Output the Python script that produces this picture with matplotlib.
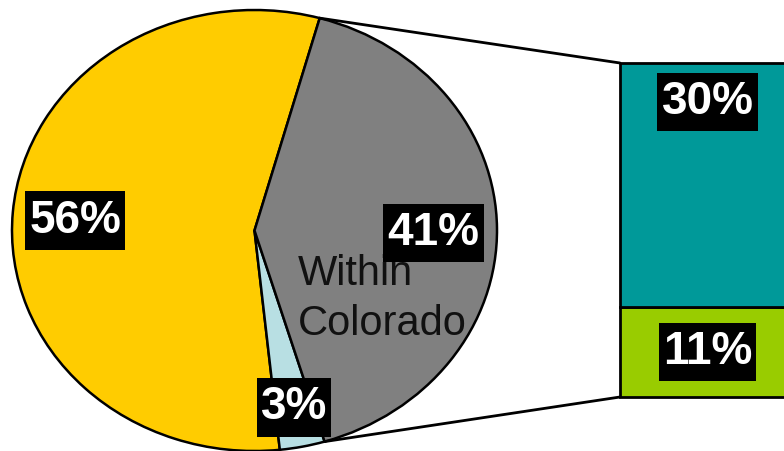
import matplotlib
matplotlib.use("Agg")
import matplotlib.pyplot as plt
from matplotlib.patches import ConnectionPatch
from matplotlib.path import Path
import numpy as np

plt.rcParams['font.family'] = ['Liberation Sans', 'DejaVu Sans']

# Share of trips: main pie
pie_labels = ["", "", "Within\nColorado"]
pie_values = [56, 3, 41]
pie_colors = ["#FFCC00", "#B8DFE3", "#808080"]

# Breakdown of the "Within Colorado" slice
bar_values = [11, 30]           # bottom to top
bar_colors = ["#99CC00", "#009999"]

W, H = 784, 451
fig = plt.figure(figsize=(W / 100, H / 100), dpi=100)


def px_axes(x0, y0, x1, y1):
    """Axes placed by pixel box (top-left origin)."""
    return fig.add_axes([x0 / W, (H - y1) / H, (x1 - x0) / W, (y1 - y0) / H])


def label_box(x0, y0, width, height, mutation_size):
    """Rectangular label background, a bit taller than a plain square pad."""
    px, py = 0.09 * mutation_size, 0.155 * mutation_size
    x0, x1 = x0 - px, x0 + width + px
    y0, y1 = y0 - py, y0 + height + py
    return Path([(x0, y0), (x1, y0), (x1, y1), (x0, y1), (x0, y0)], closed=True)


pct_style = dict(ha="center", va="center", color="white", fontsize=33,
                 fontweight="bold", zorder=5,
                 bbox=dict(boxstyle=label_box, fc="black", ec="none"))

# ---- pie (slightly elliptical) ----
pax = px_axes(12, 10, 497, 451)
wedges, _ = pax.pie(pie_values, colors=pie_colors, startangle=74.4,
                    counterclock=True, radius=1,
                    wedgeprops=dict(edgecolor="black", linewidth=1.8))
pax.set_aspect("auto")
pax.set_xlim(-1, 1)
pax.set_ylim(-1, 1)
pax.axis("off")
for w in wedges:
    w.set_clip_on(False)

# (radius, angular nudge in degrees) for each percentage label
label_pos = [(0.741, 1.3), (0.819, 0.1), (0.738, -1.5)]
for w, v, (r, da) in zip(wedges, pie_values, label_pos):
    ang = np.deg2rad((w.theta1 + w.theta2) / 2 + da)
    pax.text(r * np.cos(ang), r * np.sin(ang), f"{v}%", **pct_style)

# category label inside the grey slice
pax.text(0.177, -0.105, pie_labels[2], ha="left", va="top", color="#111111",
         fontsize=30, linespacing=1.32, zorder=4)

# ---- stacked bar ----
bax = px_axes(620, 63, 795, 397)
bottom = 0
for v, c in zip(bar_values, bar_colors):
    bax.bar(0, v, bottom=bottom, width=1, align="edge", color=c,
            edgecolor="black", linewidth=2, clip_on=False)
    bottom += v
bax.set_xlim(0, 1)
bax.set_ylim(0, sum(bar_values))
bax.axis("off")

bax.text(0.5, bar_values[0] / 2, f"{bar_values[0]}%", **pct_style)
bax.text(0.5, sum(bar_values) - 4.8, f"{bar_values[1]}%", **pct_style)

# ---- connector lines from the grey slice edges to the bar ----
grey = wedges[2]
t_top = np.deg2rad(grey.theta2)
t_bot = np.deg2rad(grey.theta1)
for t, yb in [(t_top, sum(bar_values)), (t_bot, 0)]:
    con = ConnectionPatch(xyA=(np.cos(t), np.sin(t)), coordsA=pax.transData,
                          xyB=(0, yb), coordsB=bax.transData,
                          color="black", linewidth=2)
    fig.add_artist(con)

fig.savefig("out.png", dpi=100)
